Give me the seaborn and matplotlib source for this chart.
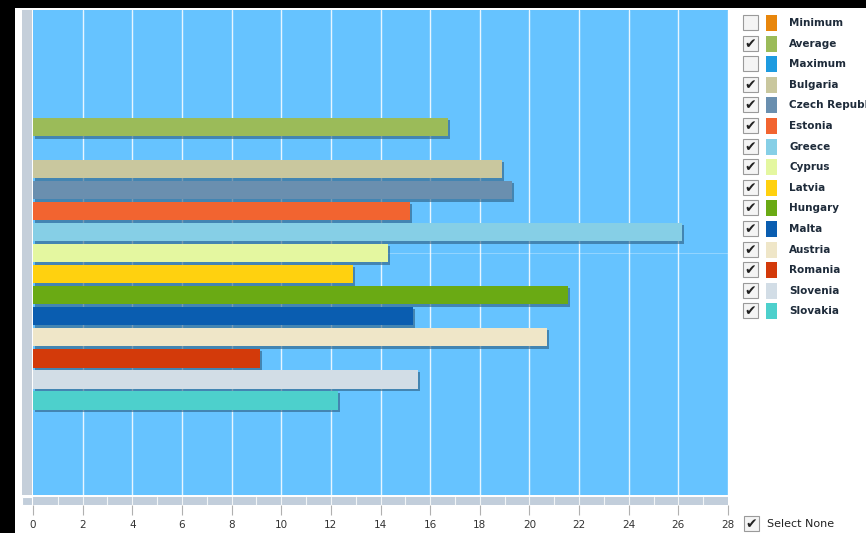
import matplotlib
matplotlib.use("Agg")
import matplotlib.pyplot as plt
import matplotlib.patheffects as pe
from matplotlib.patches import Rectangle
import seaborn as sns
import pandas as pd
import numpy as np

# ---- data ----
series_all = ["Minimum", "Average", "Maximum", "Bulgaria", "Czech Republic", "Estonia",
              "Greece", "Cyprus", "Latvia", "Hungary", "Malta", "Austria", "Romania",
              "Slovenia", "Slovakia"]
shown = ["Average", "Bulgaria", "Czech Republic", "Estonia", "Greece", "Cyprus", "Latvia",
         "Hungary", "Malta", "Austria", "Romania", "Slovenia", "Slovakia"]
values = [16.7, 18.9, 19.3, 15.2, 26.15, 14.3, 12.9, 21.55, 15.3, 20.7, 9.15, 15.5, 12.3]
checked = [False, True, False] + [True] * 12
colors = ["#E8860C", "#9BBB59", "#1E9BE0", "#C9C79E", "#6A8FAF", "#F26430", "#86CFE6",
          "#E4F7A0", "#FFD10F", "#6AAA14", "#0A5DB0", "#EFE6C8", "#D33A0A", "#D2DDE6",
          "#4DD0CC"]
x_ticks = list(range(0, 29, 2))

W, H = 866, 533
def fx(px): return px / W
def fy(py): return 1 - py / H

sns.set_theme(style="white")
plt.rcParams['font.family'] = ['DejaVu Sans']

fig = plt.figure(figsize=(8.66, 5.33), dpi=100)
fig.patch.set_facecolor("white")
# black borders of the screenshot
fig.patches.append(Rectangle((0, fy(8)), 1, 8 / H, transform=fig.transFigure,
                             facecolor="black", edgecolor="none", zorder=0))
fig.patches.append(Rectangle((0, 0), 15 / W, 1, transform=fig.transFigure,
                             facecolor="black", edgecolor="none", zorder=0))

# main axes
ax = fig.add_axes([fx(33), fy(495), fx(728) - fx(33), (495 - 10) / H])
ax.set_facecolor("#66C3FF")
df = pd.DataFrame({"series": shown, "value": values})
pal = dict(zip(series_all, colors))
sns.barplot(data=df, x="value", y="series", order=series_all, hue="series",
            palette=pal, orient="h", width=0.9, legend=False, ax=ax,
            saturation=1, zorder=3)
for p in ax.patches:
    p.set_edgecolor("none")
    p.set_path_effects([pe.SimplePatchShadow(offset=(1.5, -1.5), shadow_rgbFace="#2c5d80", alpha=0.6),
                        pe.Normal()])
ax.set_xlim(0, 28)
ax.set_ylim(18.52, -4.57)
for t in x_ticks[1:]:
    ax.axvline(t, color="white", lw=1.0, alpha=0.85, zorder=1)
ax.axhline(7.0, color="white", lw=0.6, alpha=0.35, zorder=1)
ax.set_xticks([]); ax.set_yticks([])
ax.set_xlabel(""); ax.set_ylabel("")
for s in ax.spines.values():
    s.set_visible(False)

# left grey strip
axl = fig.add_axes([fx(22), fy(495), fx(32) - fx(22), (495 - 10) / H])
axl.set_facecolor("#C5CFDA")
axl.set_xticks([]); axl.set_yticks([])
for s in axl.spines.values():
    s.set_visible(False)

# bottom grey strip with minor lines and tick labels
axb = fig.add_axes([fx(33), fy(505), fx(728) - fx(33), 8 / H])
axb.set_facecolor("#C2CEDB")
axb.set_xlim(0, 28)
axb.set_ylim(0, 1)
for t in range(1, 28):
    axb.axvline(t, color="white", lw=0.8, alpha=0.8)
axb.set_yticks([])
axb.set_xticks(x_ticks)
axb.set_xticklabels([str(t) for t in x_ticks], fontsize=7.5, color="#333333")
axb.tick_params(axis="x", length=7, width=0.8, color="#B0B0B0", pad=4, bottom=True)
for s in axb.spines.values():
    s.set_visible(False)
fig.patches.append(Rectangle((fx(22), fy(505)), 10 / W, 8 / H, transform=fig.transFigure,
                             facecolor="#C2CEDB", edgecolor="white", lw=0.8, zorder=2))

# legend with checkboxes
def checkbox(xp, yp, on):
    fig.patches.append(Rectangle((fx(xp), fy(yp + 7)), 15 / W, 15 / H,
                                 transform=fig.transFigure, facecolor="#F4F4F4",
                                 edgecolor="#9A9A9A", lw=0.8, zorder=3))
    if on:
        fig.text(fx(xp + 7.5), fy(yp), "\u2714", fontsize=10, color="#222222",
                 ha="center", va="center", zorder=4)

for i, (name, c, on) in enumerate(zip(series_all, colors, checked)):
    yc = 23 + i * 20.6
    checkbox(743, yc, on)
    fig.patches.append(Rectangle((fx(766), fy(yc + 8)), 11 / W, 16 / H,
                                 transform=fig.transFigure, facecolor=c,
                                 edgecolor="none", zorder=3))
    fig.text(fx(789), fy(yc), name, fontsize=7.5, fontweight="bold",
             color="#1E2B3A", ha="left", va="center")

checkbox(744, 524, True)
fig.text(fx(767), fy(524), "Select None", fontsize=8, color="#222222",
         ha="left", va="center")

fig.savefig("out.png", dpi=100, facecolor=fig.get_facecolor())
